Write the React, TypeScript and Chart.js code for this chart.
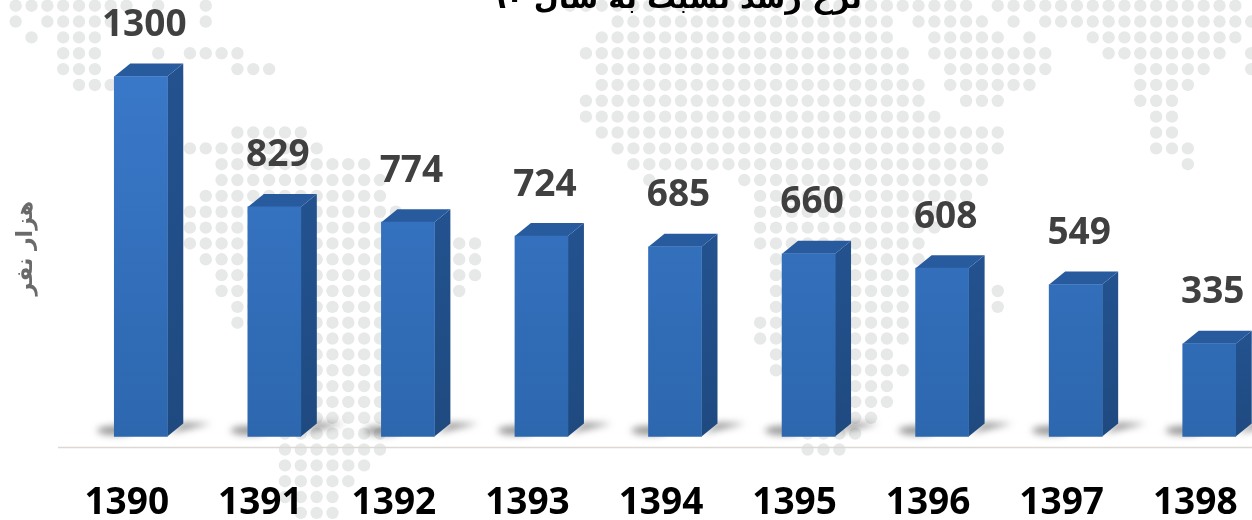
import React, { useEffect, useRef } from "react";
import { Chart, registerables } from "chart.js";

Chart.register(...registerables);

const categories = ["1390", "1391", "1392", "1393", "1394", "1395", "1396", "1397", "1398"];
const values = [1300, 829, 774, 724, 685, 660, 608, 549, 335];
const chartTitle = "نرخ رشد نسبت به سال ۹۰";
const axisTitle = "هزار نفر";

// Decorative dotted world map behind the bars: for each grid row, runs of [firstCol, lastCol].
const mapRows: number[][][] = [
  [[1, 8], [10, 10], [13, 13], [36, 61], [63, 78]],
  [[1, 1], [3, 7], [13, 13], [39, 56], [58, 62], [64, 64], [66, 79]],
  [[2, 2], [4, 6], [38, 56], [59, 63], [65, 65], [69, 78]],
  [[4, 6], [10, 10], [12, 15], [37, 57], [59, 66], [70, 77], [79, 79]],
  [[4, 6], [15, 17], [38, 57], [60, 66], [72, 76], [79, 79]],
  [[5, 7], [38, 58], [60, 65], [72, 75]],
  [[37, 58], [61, 63], [72, 74]],
  [[37, 59], [73, 74]],
  [[15, 19], [38, 63], [73, 74]],
  [[12, 20], [39, 63], [73, 75]],
  [[14, 23], [40, 62], [75, 75]],
  [[14, 24], [41, 41], [47, 62]],
  [[13, 24], [48, 61]],
  [[12, 25], [48, 59]],
  [[12, 25], [48, 59]],
  [[12, 30], [48, 58]],
  [[13, 30], [49, 58]],
  [[14, 30], [49, 57]],
  [[14, 29], [49, 57], [63, 63]],
  [[15, 26], [49, 57], [63, 63]],
  [[15, 26], [48, 57]],
  [[20, 26], [48, 57]],
  [[20, 26], [49, 56]],
  [[20, 26], [49, 57]],
  [[20, 26], [50, 56]],
  [[20, 26], [50, 56]],
  [[20, 26], [50, 55]],
  [[18, 24], [51, 54]],
  [[18, 24], [51, 53]],
  [[18, 23]],
  [[18, 22]],
  [[18, 21]],
  [[19, 21]],
];

const TOP_OFFSET = 17;
const DEPTH_X = 16;
const DEPTH_Y = 13;

const backdrop = {
  id: "backdrop",
  beforeDraw(chart: any) {
    const c = chart.ctx;
    c.save();
    c.fillStyle = "#ffffff";
    c.fillRect(0, 0, chart.width, chart.height);
    c.fillStyle = "#e7e9e9";
    mapRows.forEach((runs, r) => {
      runs.forEach(([a, b]) => {
        for (let k = a; k <= b; k++) {
          c.beginPath();
          c.arc(-0.17 + 15.84 * k, 5.7 + 15.85 * r + TOP_OFFSET, 6.2, 0, Math.PI * 2);
          c.fill();
        }
      });
    });
    c.restore();
  },
};

const bars3d = {
  id: "bars3d",
  beforeDatasetsDraw(chart: any) {
    const c = chart.ctx;
    const area = chart.chartArea;
    c.save();
    // floor line
    c.strokeStyle = "#dcd8d4";
    c.lineWidth = 1.5;
    c.beginPath();
    c.moveTo(area.left - 16, area.bottom);
    c.lineTo(chart.width, area.bottom);
    c.stroke();

    chart.getDatasetMeta(0).data.forEach((el: any) => {
      const right = el.x + el.width / 2;
      const left = el.x - el.width / 2;
      const top = el.y;
      const base = el.base;
      // soft floor shadows
      c.save();
      c.filter = "blur(3.5px)";
      c.fillStyle = "rgba(80,80,80,0.6)";
      c.beginPath();
      c.ellipse(left + 1, base - 6, 18, 4.5, 0, 0, Math.PI * 2);
      c.fill();
      c.beginPath();
      c.moveTo(right + 2, base - 3);
      c.lineTo(right + 16, base - 14);
      c.lineTo(right + 44, base - 13);
      c.closePath();
      c.fill();
      c.restore();
      // side face
      const side = c.createLinearGradient(0, top - DEPTH_Y, 0, base);
      side.addColorStop(0, "#23528f");
      side.addColorStop(1, "#1f4a80");
      c.fillStyle = side;
      c.beginPath();
      c.moveTo(right, top);
      c.lineTo(right + DEPTH_X, top - DEPTH_Y);
      c.lineTo(right + DEPTH_X, base - DEPTH_Y);
      c.lineTo(right, base);
      c.closePath();
      c.fill();
      // top face
      c.fillStyle = "#285a9e";
      c.beginPath();
      c.moveTo(left, top);
      c.lineTo(left + DEPTH_X, top - DEPTH_Y);
      c.lineTo(right + DEPTH_X, top - DEPTH_Y);
      c.lineTo(right, top);
      c.closePath();
      c.fill();
    });
    c.restore();
  },
};

const valueLabels = {
  id: "valueLabels",
  afterDatasetsDraw(chart: any) {
    const c = chart.ctx;
    c.save();
    c.font = "bold 37px 'Open Sans'";
    c.fillStyle = "#404040";
    c.textAlign = "center";
    c.textBaseline = "middle";
    chart.getDatasetMeta(0).data.forEach((el: any, i: number) => {
      c.fillText(String(values[i]), el.x + 3.5, el.y - 51);
    });
    c.restore();
  },
};

export default function App() {
  const ref = useRef<HTMLCanvasElement>(null);
  useEffect(() => {
    const chart = new Chart(ref.current!, {
      type: "bar",
      data: {
        labels: categories,
        datasets: [
          {
            data: values,
            barThickness: 53,
            backgroundColor: (ctx: any) => {
              const g = ctx.chart.ctx.createLinearGradient(0, 60, 0, 460);
              g.addColorStop(0, "#3b79cb");
              g.addColorStop(1, "#2c67ae");
              return g;
            },
          },
        ],
      },
      options: {
        responsive: false,
        animation: false,
        layout: { padding: { left: 13, right: 14, top: 0, bottom: 0 } },
        plugins: {
          legend: { display: false },
          tooltip: { enabled: false },
          title: {
            display: true,
            text: chartTitle,
            fullSize: false,
            color: "#000000",
            font: { family: "'DejaVu Sans'", weight: "bold", size: 29 },
            padding: { top: 0, bottom: 31 },
          },
        },
        scales: {
          x: {
            border: { display: false },
            grid: { display: false },
            ticks: {
              color: "#000000",
              font: { family: "'Open Sans'", weight: "bold", size: 37 },
              padding: 26,
              labelOffset: -14,
              maxRotation: 0,
              autoSkip: false,
            },
          },
          y: {
            min: -40,
            max: 1400,
            border: { display: false },
            grid: { display: false },
            ticks: { display: false },
            title: {
              display: true,
              text: axisTitle,
              color: "#6a6a6a",
              font: { family: "'DejaVu Sans'", weight: "bold", size: 22 },
              padding: { top: 0, bottom: 26.6 },
            },
          },
        },
      },
      plugins: [backdrop, bars3d, valueLabels],
    } as any);
    return () => chart.destroy();
  }, []);
  return (
    <div style={{ position: "fixed", left: 0, top: 0, width: 1252, height: 520, overflow: "hidden", background: "#fff" }}>
      <canvas ref={ref} width={1290} height={569} style={{ position: "absolute", left: 0, top: -TOP_OFFSET }} />
    </div>
  );
}
